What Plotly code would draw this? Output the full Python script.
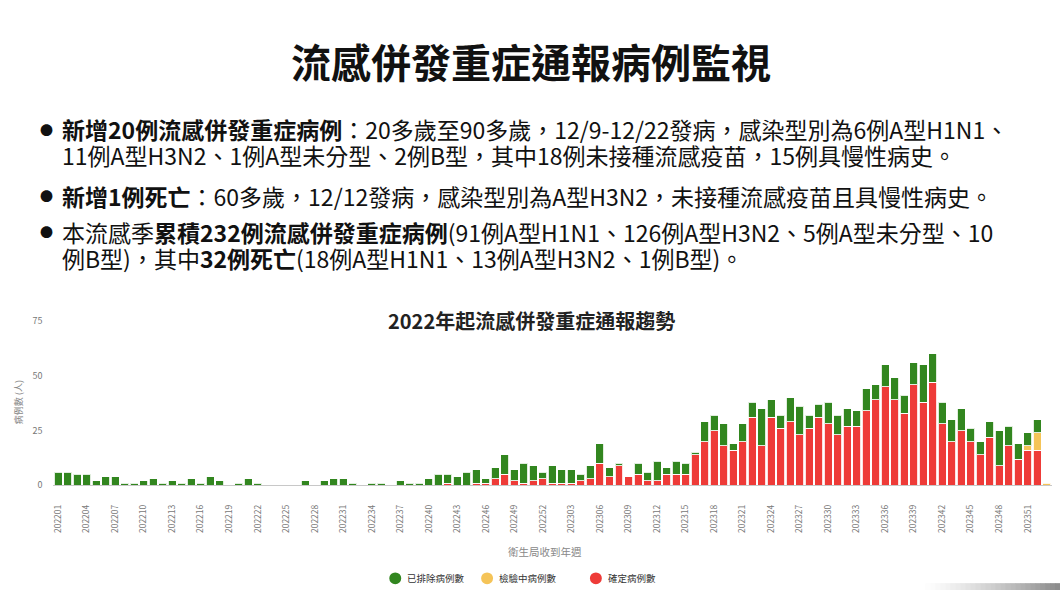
import plotly.graph_objects as go

# ---------------- data ----------------
weeks = [f"2022{w:02d}" for w in range(1, 53)] + [f"2023{w:02d}" for w in range(1, 53)] + ["202401"]
tick_weeks = weeks[0:103:3]

confirmed = (
    [0] * 41 + [1, 0, 0]
    + [1, 1, 3, 5, 2, 1, 2, 3, 1, 1, 1, 2, 3, 10, 4, 9, 4, 5, 2, 2, 5, 5, 5, 14]
    + [20, 25, 18, 16, 20, 31, 18, 31, 26, 29, 23, 26, 31, 28, 23, 27, 27, 34, 39, 45,
       39, 33, 46, 38, 47, 28, 20, 25, 20, 14, 22, 9, 18, 12, 16, 16, 0]
)
pending = [0] * 102 + [2, 8, 1]
excluded = (
    [6, 6, 5, 5, 2, 4, 4, 1, 1, 2, 3, 1, 2, 1, 3, 1, 4, 2, 0, 1, 3, 1, 0, 0, 0, 0, 2, 0, 2, 3,
     3, 1, 0, 1, 1, 0, 2, 1, 1, 3, 5, 4, 4, 6]
    + [6, 2, 5, 9, 5, 9, 7, 3, 8, 6, 6, 3, 6, 9, 4, 1, 0, 5, 4, 9, 3, 6, 5, 1]
    + [9, 7, 10, 3, 8, 7, 17, 8, 6, 11, 13, 6, 6, 10, 9, 8, 7, 10, 7, 10,
       10, 8, 10, 17, 13, 10, 10, 10, 6, 6, 7, 16, 9, 7, 6, 6, 0]
)

series_names = ["已排除病例數", "檢驗中病例數", "確定病例數"]
GREEN, YELLOW, RED = "#32861f", "#f5c458", "#ee3b38"
series_colors = [GREEN, YELLOW, RED]

main_title = "流感併發重症通報病例監視"
chart_title = "2022年起流感併發重症通報趨勢"
bullet_lines = [
    "<b>新增20例流感併發重症病例</b>：20多歲至90多歲，12/9-12/22發病，感染型別為6例A型H1N1、",
    "11例A型H3N2、1例A型未分型、2例B型，其中18例未接種流感疫苗，15例具慢性病史。",
    "<b>新增1例死亡</b>：60多歲，12/12發病，感染型別為A型H3N2，未接種流感疫苗且具慢性病史。",
    "本流感季<b>累積232例流感併發重症病例</b>(91例A型H1N1、126例A型H3N2、5例A型未分型、10",
    "例B型)，其中<b>32例死亡</b>(18例A型H1N1、13例A型H3N2、1例B型)。",
]
line_y = [125, 151, 193, 230, 257]
bullet_y = [125, 193, 230]

W, H = 1060, 596
FONT = "Noto Sans CJK TC"


def nz(v):
    return [x if x else None for x in v]


def px(x):
    return x / W


def py(y):
    return 1 - y / H


fig = go.Figure()
sep = dict(color="rgba(255,255,255,0.85)", width=1)
fig.add_trace(go.Bar(x=weeks, y=nz(confirmed), marker=dict(color=RED, line=sep), showlegend=False, name=series_names[2]))
fig.add_trace(go.Bar(x=weeks, y=nz(pending), marker=dict(color=YELLOW, line=sep), showlegend=False, name=series_names[1]))
fig.add_trace(go.Bar(x=weeks, y=nz(excluded), marker=dict(color=GREEN, line=sep), showlegend=False, name=series_names[0]))

x0, x1 = 51.5, 1051.5
y_top, y_bot = 321.0, 489.0

annotations = [
    dict(text=f"<b>{main_title}</b>", x=px(530), y=py(55), xref="paper", yref="paper",
         xanchor="center", yanchor="middle", showarrow=False,
         font=dict(family=FONT, size=40, color="#111")),
    dict(text=f"<b>{chart_title}</b>", x=px(531), y=py(321), xref="paper", yref="paper",
         xanchor="center", yanchor="middle", showarrow=False,
         font=dict(family=FONT, size=20, color="#222")),
    dict(text="病例數 (人)", x=px(16), y=py(404), xref="paper", yref="paper",
         xanchor="center", yanchor="middle", showarrow=False, textangle=-90,
         font=dict(family=FONT, size=9, color="#888")),
    dict(text="衛生局收到年週", x=px(544), y=py(557), xref="paper", yref="paper",
         xanchor="center", yanchor="middle", showarrow=False,
         font=dict(family=FONT, size=10.5, color="#888")),
]
for t, yy in zip(bullet_lines, line_y):
    annotations.append(dict(text=t, x=px(58), y=py(yy), xref="paper", yref="paper",
                            xanchor="left", yanchor="middle", showarrow=False,
                            font=dict(family=FONT, size=23, color="#111")))
for yy in bullet_y:
    annotations.append(dict(text="●", x=px(45), y=py(yy), xref="paper", yref="paper",
                            xanchor="center", yanchor="middle", showarrow=False,
                            font=dict(family=FONT, size=13, color="#111")))

shapes = []
# manual legend: circle + label
leg_circle_x = [394, 486, 595]
leg_y = 584
for nm, col, cx in zip(series_names, series_colors, leg_circle_x):
    shapes.append(dict(type="circle", xref="paper", yref="paper",
                       x0=px(cx - 6), x1=px(cx + 6), y0=py(leg_y + 6), y1=py(leg_y - 6),
                       fillcolor=col, line=dict(width=0)))
    annotations.append(dict(text=nm, x=px(cx + 10), y=py(leg_y), xref="paper", yref="paper",
                            xanchor="left", yanchor="middle", showarrow=False,
                            font=dict(family=FONT, size=9.5, color="#333")))

# decorative gray gradient strip (slide footer)
n = 28
for i in range(n):
    g = int(255 - (255 - 140) * (i / (n - 1)) ** 1.3)
    xa = 920 + (1060 - 920) * i / n
    xb = 920 + (1060 - 920) * (i + 1) / n + 0.5
    shapes.append(dict(type="rect", xref="paper", yref="paper", x0=px(xa), x1=px(xb),
                       y0=0, y1=py(589), line=dict(width=0),
                       fillcolor=f"rgb({g},{g},{g})", layer="below"))

fig.update_layout(
    width=W, height=H,
    margin=dict(l=0, r=0, t=0, b=0),
    paper_bgcolor="white", plot_bgcolor="white",
    barmode="stack", bargap=0.16,
    font=dict(family=FONT),
    showlegend=False,
    xaxis=dict(domain=[px(x0), px(x1)], type="category", categoryorder="array", categoryarray=weeks,
               tickmode="array", tickvals=tick_weeks, ticktext=tick_weeks, tickangle=-90,
               tickfont=dict(size=8.5, color="#777", family=FONT), ticks="", ticklabelstandoff=15,
               showgrid=False, showline=True, linecolor="#c8c8c8", linewidth=1, zeroline=False),
    yaxis=dict(domain=[py(y_bot), py(y_top)], range=[0, 75], tickvals=[0, 25, 50, 75],
               tickfont=dict(size=9, color="#777", family=FONT), ticks="", ticklabelstandoff=10,
               showgrid=False, zeroline=False, showline=False),
    annotations=annotations,
    shapes=shapes,
)

fig.write_html("out.html", config={"displayModeBar": False},
               post_script="document.body.style.margin='0';document.documentElement.style.overflow='hidden';")
